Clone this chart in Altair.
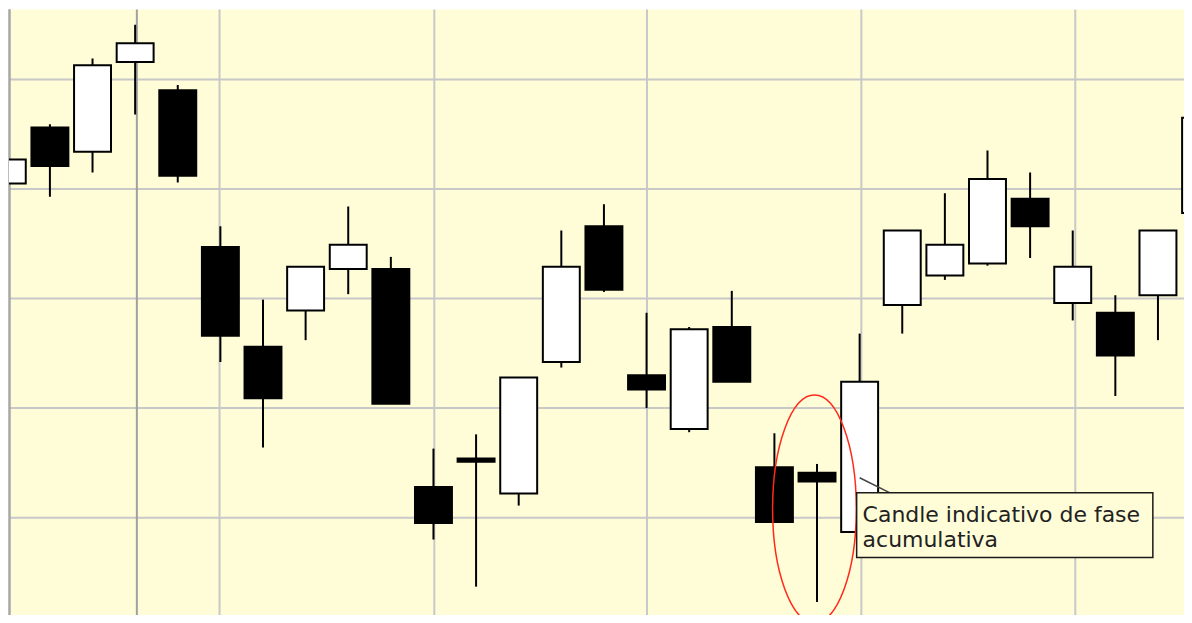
import altair as alt
import pandas as pd

# ---- candle data (index, open, high, low, close) ----
idx    = list(range(-1, 28))
opens  = [23.05, 23.56, 23.34, 24.16, 23.90, 22.47, 21.56, 21.89, 22.27, 22.27,
          20.28, 20.54, 20.22, 21.42, 22.66, 21.30, 20.81, 21.74, 20.46, 20.41,
          19.87, 21.94, 22.21, 22.32, 22.91, 21.96, 21.87, 22.03, 22.78]
highs  = [23.40, 23.59, 24.19, 24.50, 23.95, 22.66, 21.99, 22.29, 22.84, 22.38,
          20.63, 20.76, 21.28, 22.62, 22.86, 21.87, 21.74, 22.07, 20.77, 20.49,
          21.68, 22.62, 22.96, 23.35, 23.15, 22.62, 22.03, 22.62, 23.80]
lows   = [22.95, 22.93, 23.15, 23.68, 23.06, 21.42, 20.64, 21.62, 22.04, 21.04,
          19.80, 19.37, 20.11, 21.37, 22.06, 21.00, 20.78, 21.24, 19.96, 19.23,
          19.87, 21.68, 22.17, 22.30, 22.37, 21.80, 21.11, 21.62, 22.60]
closes = [23.27, 23.21, 24.13, 24.33, 23.12, 21.66, 21.09, 22.29, 22.49, 21.04,
          19.95, 20.51, 21.28, 22.29, 22.08, 21.17, 21.72, 21.24, 19.96, 20.33,
          21.24, 22.62, 22.49, 23.09, 22.66, 22.29, 21.48, 22.62, 23.65]

# ---- grid ----
grid_prices = [20, 21, 22, 23, 24]
grid_idx = [3.98, 9.02, 14.01, 19.04, 24.06]
dark_idx = [2.04]

# ---- annotation ----
ellipse_x = [17.94]
ellipse_y = [20.08]
box_x = [18.93]
box_x2 = [25.88]
box_y = [20.228]
box_y2 = [19.636]
note_text_value = ["Candle indicativo de fase\nacumulativa"]
note_x = [19.07]
note_y = [19.964]
conn_x = [19.0]
conn_x2 = [19.70]
conn_y = [20.364]
conn_y2 = [20.228]

BG = "#FFFDD8"

df = pd.DataFrame({"i": idx, "open": opens, "high": highs, "low": lows, "close": closes})
grid_h = pd.DataFrame({"p": grid_prices})
grid_v = pd.DataFrame({"g": grid_idx})
dark_v = pd.DataFrame({"g": dark_idx})
ell = pd.DataFrame({"x": ellipse_x, "y": ellipse_y})
box = pd.DataFrame({"x": box_x, "x2": box_x2, "y": box_y, "y2": box_y2})
notes = pd.DataFrame({"t": note_text_value, "x": note_x, "y": note_y})
conn = pd.DataFrame({"x": conn_x, "x2": conn_x2, "y": conn_y, "y2": conn_y2})

xs = alt.Scale(domain=[-0.96, 26.775], nice=False, zero=False, padding=0)
ys = alt.Scale(domain=[19.034, 24.638], nice=False, zero=False, padding=0)

hgrid = alt.Chart(grid_h).mark_rule(color="#C8C8C8", strokeWidth=2).encode(
    y=alt.Y("p:Q", scale=ys, axis=None))
vgrid = alt.Chart(grid_v).mark_rule(color="#C8C8C8", strokeWidth=2).encode(
    x=alt.X("g:Q", scale=xs, axis=None))
vdark = alt.Chart(dark_v).mark_rule(color="#A0A0A0", strokeWidth=2).encode(
    x=alt.X("g:Q", scale=xs, axis=None))
left_edge = alt.Chart(grid_h).mark_rule(color="#A8A8A8", strokeWidth=1.5).encode(
    x=alt.value(0.5), y=alt.value(0), y2=alt.value(615))

wicks = alt.Chart(df).mark_rule(color="black", strokeWidth=2, clip=True).encode(
    x=alt.X("i:Q", scale=xs, axis=None),
    y=alt.Y("low:Q", scale=ys, axis=None),
    y2="high:Q")

bodies = alt.Chart(df).mark_bar(size=37, stroke="black", strokeWidth=2, clip=True).encode(
    x=alt.X("i:Q", scale=xs, axis=None),
    y=alt.Y("open:Q", scale=ys, axis=None),
    y2="close:Q",
    fill=alt.condition("datum.close >= datum.open", alt.value("white"), alt.value("black")))

ellipse_path = "M -0.368,0 A 0.368,1 0 1,0 0.368,0 A 0.368,1 0 1,0 -0.368,0 Z"
ellipse = alt.Chart(ell).mark_point(
    shape=ellipse_path, size=51984, filled=False, stroke="#FF2A1A",
    strokeWidth=1.5, opacity=1, clip=True).encode(
    x=alt.X("x:Q", scale=xs, axis=None),
    y=alt.Y("y:Q", scale=ys, axis=None))

connector = alt.Chart(conn).mark_rule(color="#444444", strokeWidth=1.5).encode(
    x=alt.X("x:Q", scale=xs, axis=None), x2="x2:Q",
    y=alt.Y("y:Q", scale=ys, axis=None), y2="y2:Q")

note_box = alt.Chart(box).mark_rect(fill=BG, stroke="#1A1A1A", strokeWidth=1.5).encode(
    x=alt.X("x:Q", scale=xs, axis=None), x2="x2:Q",
    y=alt.Y("y:Q", scale=ys, axis=None), y2="y2:Q")

note_text = alt.Chart(notes).mark_text(
    align="left", baseline="alphabetic", font="DejaVu Sans", fontSize=22,
    lineBreak="\n", lineHeight=25.8, color="#222222").encode(
    x=alt.X("x:Q", scale=xs, axis=None),
    y=alt.Y("y:Q", scale=ys, axis=None),
    text="t:N")

chart = alt.layer(
    hgrid, vgrid, vdark, left_edge, wicks, bodies, connector, ellipse, note_box, note_text
).properties(
    width=1184, height=615,
    padding={"left": 0, "top": 0, "right": -8, "bottom": -10},
    background="white",
).configure_view(fill=BG, strokeWidth=0)

chart.save("out.html", embed_options={"renderer": "svg", "actions": False})
